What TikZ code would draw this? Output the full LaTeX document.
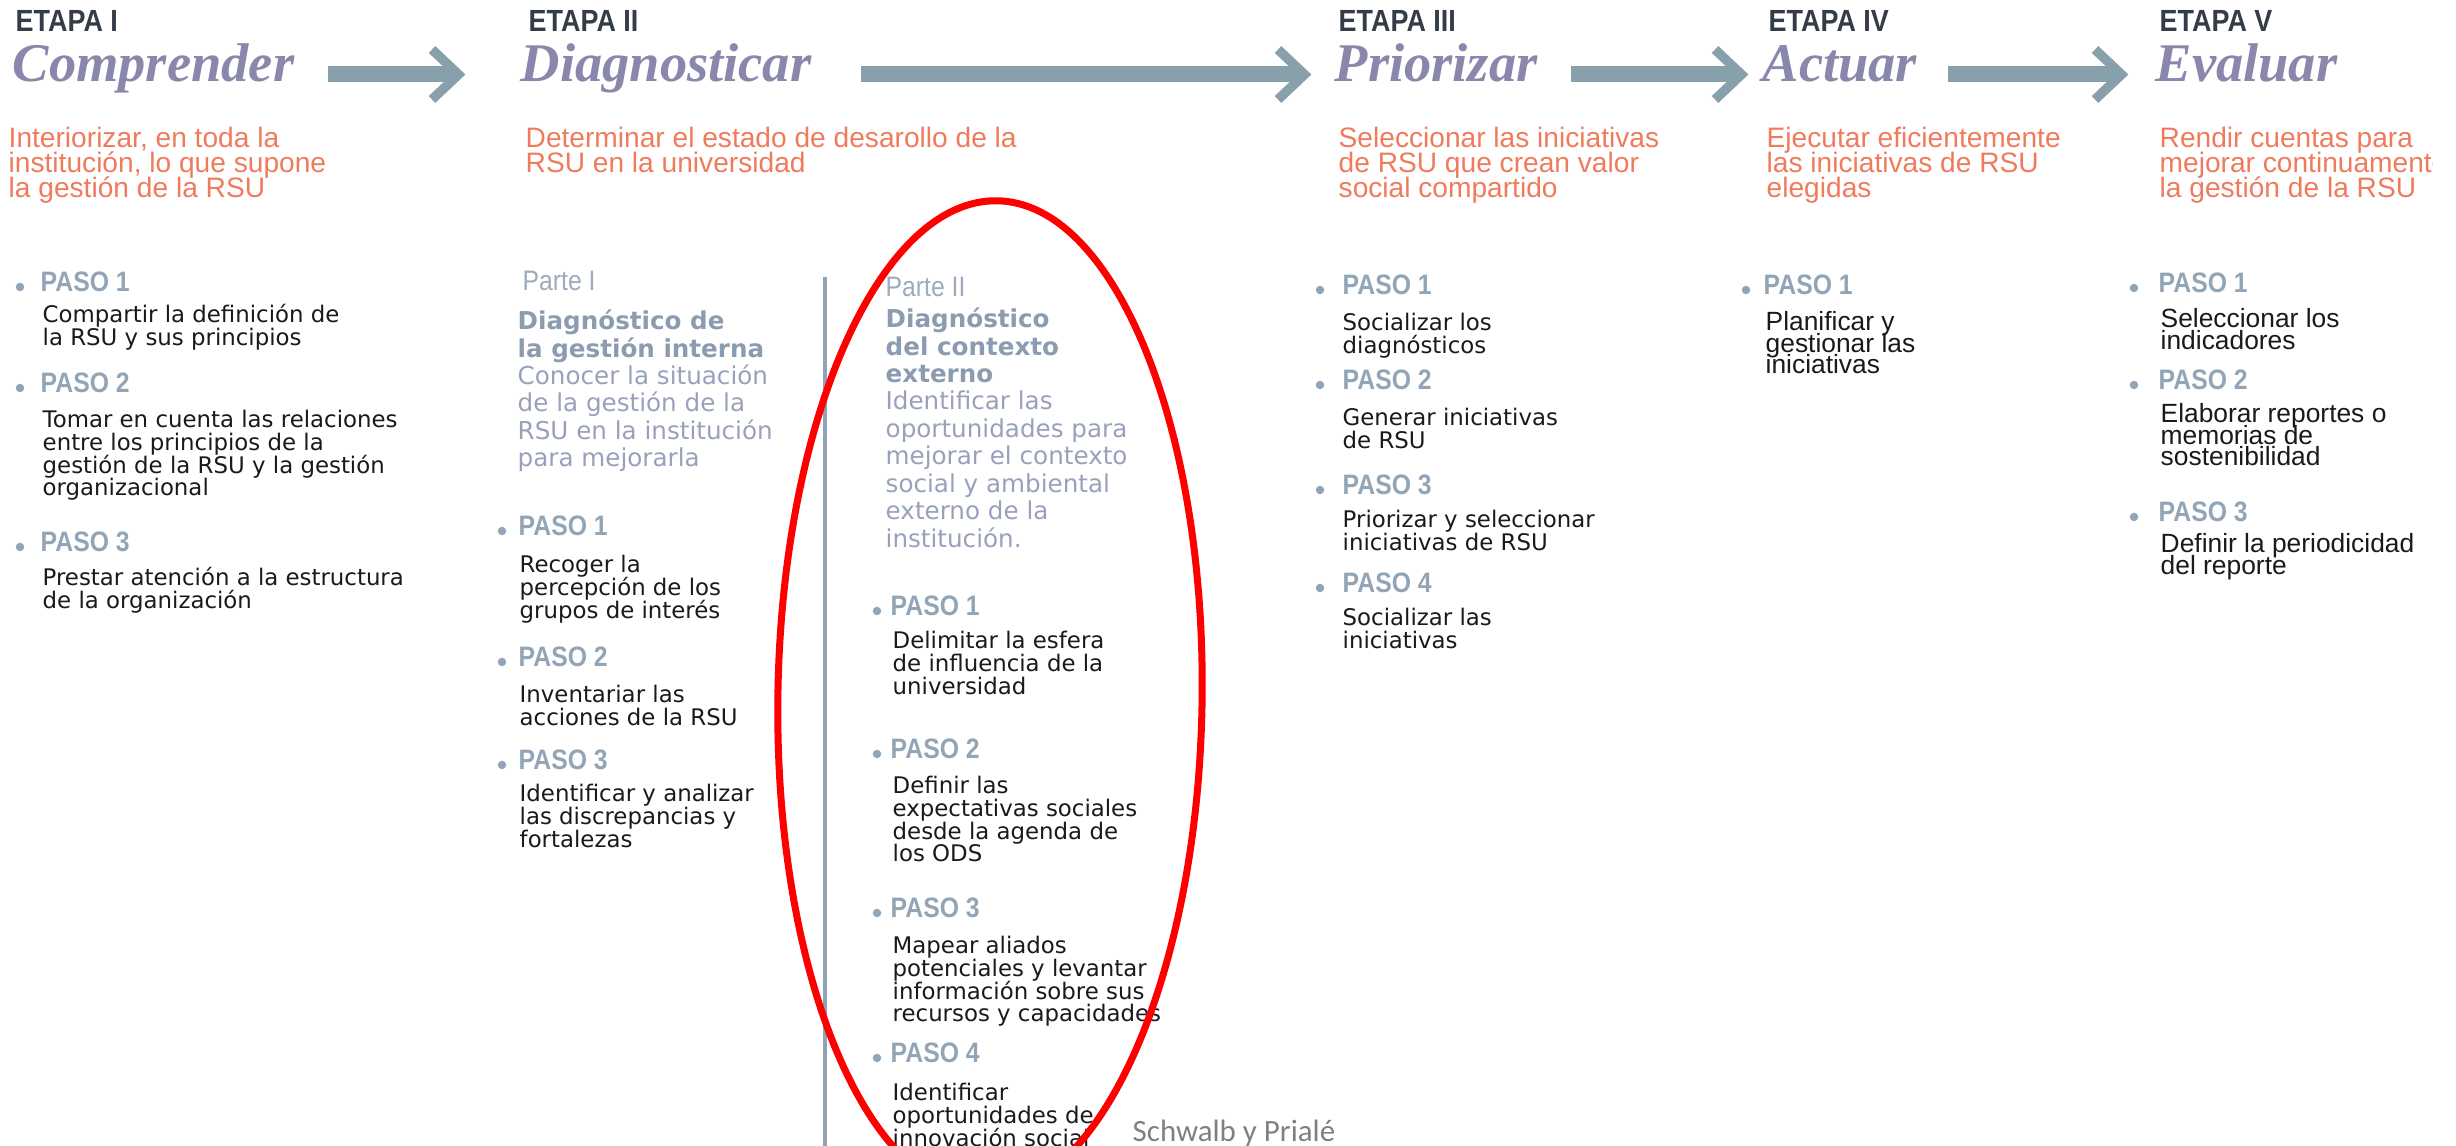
\documentclass[tikz,border=0pt]{standalone}
\usepackage{fontspec}
\usetikzlibrary{shapes.geometric}
\newfontfamily\djv{DejaVu Sans}
\newfontfamily\lib{Liberation Sans}
\newfontfamily\libc[FakeStretch=0.88]{Liberation Sans}
\newfontfamily\libser{Liberation Serif}
\newfontfamily\carl{Carlito}
\newcommand\toprl{\rule{0pt}{10pt}}
\lineskiplimit=-100pt
\lineskip=0pt
\definecolor{etapac}{RGB}{52,60,72}
\definecolor{titc}{RGB}{138,135,172}
\definecolor{arrowc}{RGB}{135,160,171}
\definecolor{orangec}{RGB}{240,122,92}
\definecolor{pasoc}{RGB}{145,165,182}
\definecolor{bodyc}{RGB}{25,25,30}
\definecolor{partec}{RGB}{158,170,190}
\definecolor{parteb}{RGB}{140,156,176}
\definecolor{partet}{RGB}{152,160,188}
\definecolor{linec}{RGB}{143,163,180}
\definecolor{srcc}{RGB}{128,128,128}
\begin{document}
\begin{tikzpicture}[x=0.01cm,y=-0.01cm,
  etapa/.style={anchor=base west,inner sep=0pt,text=etapac,font=\libc\bfseries\fontsize{8.7}{9}\selectfont},
  titulo/.style={anchor=base west,inner sep=0pt,text=titc,font=\libser\bfseries\itshape\fontsize{15.5}{16}\selectfont},
  txt/.style={anchor=north west,inner sep=0pt,align=left,yshift=10pt},
  sub/.style={txt,text=orangec,font=\lib\fontsize{8}{7.1}\selectfont},
  paso/.style={anchor=base west,inner sep=0pt,text=pasoc,font=\libc\bfseries\fontsize{8}{8}\selectfont},
  body/.style={txt,text=bodyc,font=\djv\fontsize{6.5}{6.45}\selectfont},
  bodyn/.style={txt,text=bodyc,font=\lib\fontsize{7.5}{6.1}\selectfont},
  parte/.style={anchor=base west,inner sep=0pt,text=partec,font=\libc\fontsize{8}{8}\selectfont},
  partetxt/.style={txt,text=partet,font=\djv\fontsize{7}{7.8}\selectfont},
  bul/.style={circle,fill=pasoc,inner sep=0pt,minimum size=0.085cm},
  src/.style={anchor=base west,inner sep=0pt,text=srcc,font=\carl\fontsize{8.8}{9}\selectfont},
  shaft/.style={draw=arrowc,line width=0.16cm},
  chev/.style={draw=arrowc,line width=0.095cm,line join=miter},
  vline/.style={draw=linec,line width=0.04cm},
  redring/.style={draw=red,line width=0.07cm}
]
\useasboundingbox (0,0) rectangle (2456,1146);
\clip (0,0) rectangle (2432,1146);

% ---- header ----
\node[etapa] (e1) at (15,32) {ETAPA I};
\node[etapa] (e2) at (528,32) {ETAPA II};
\node[etapa] (e3) at (1338,32) {ETAPA III};
\node[etapa] (e4) at (1768,32) {ETAPA IV};
\node[etapa] (e5) at (2159,32) {ETAPA V};

\node[titulo] (t1) at (12,82) {Comprender};
\node[titulo] (t2) at (520,82) {Diagnosticar};
\node[titulo] (t3) at (1334,82) {Priorizar};
\node[titulo] (t4) at (1762,82) {Actuar};
\node[titulo] (t5) at (2155,82) {Evaluar};

\coordinate (as1) at (328,74.5);  \coordinate (ae1) at (465,74.5);
\coordinate (as2) at (861,74.5);  \coordinate (ae2) at (1311,74.5);
\coordinate (as3) at (1571,74.5); \coordinate (ae3) at (1748,74.5);
\coordinate (as4) at (1948,74.5); \coordinate (ae4) at (2128,74.5);
\foreach \i in {1,...,4}{
  \draw[shaft] (as\i) -- ([xshift=-0.09cm]ae\i);
  \draw[chev] ([shift={(-33,-25)}]ae\i) -- ([xshift=-0.065cm]ae\i) -- ([shift={(-33,25)}]ae\i);
}

\node[sub] (o1) at (8,147) {\toprl Interiorizar, en toda la\\institución, lo que supone\\la gestión de la RSU};
\node[sub] (o2) at (525,147) {\toprl Determinar el estado de desarollo de la\\RSU en la universidad};
\node[sub] (o3) at (1338,147) {\toprl Seleccionar las iniciativas\\de RSU que crean valor\\social compartido};
\node[sub] (o4) at (1766,147) {\toprl Ejecutar eficientemente\\las iniciativas de RSU\\elegidas};
\node[sub] (o5) at (2159,147) {\toprl Rendir cuentas para\\mejorar continuamente\\la gestión de la RSU};

% ---- column 1 ----
\node[bul] (b11) at (20,287) {};
\node[paso] (p11) at (40,292) {PASO 1};
\node[body] (d11) at (42,322) {\toprl Compartir la definición de\\la RSU y sus principios};
\node[bul] (b12) at (20,388) {};
\node[paso] (p12) at (40,393) {PASO 2};
\node[body] (d12) at (42,427) {\toprl Tomar en cuenta las relaciones\\entre los principios de la\\gestión de la RSU y la gestión\\organizacional};
\node[bul] (b13) at (20,547) {};
\node[paso] (p13) at (40,552) {PASO 3};
\node[body] (d13) at (42,585) {\toprl Prestar atención a la estructura\\de la organización};

% ---- column 2, part I ----
\node[parte] (pt1) at (522,291) {Parte I};
\node[partetxt] (pd1) at (517,329) {\toprl\textcolor{parteb}{\bfseries Diagnóstico de}\\\textcolor{parteb}{\bfseries la gestión interna}\\Conocer la situación\\de la gestión de la\\RSU en la institución\\para mejorarla};
\node[bul] (b21) at (502,531) {};
\node[paso] (p21) at (518,536) {PASO 1};
\node[body] (d21) at (519,572) {\toprl Recoger la\\percepción de los\\grupos de interés};
\node[bul] (b22) at (502,662) {};
\node[paso] (p22) at (518,667) {PASO 2};
\node[body] (d22) at (519,702) {\toprl Inventariar las\\acciones de la RSU};
\node[bul] (b23) at (502,765) {};
\node[paso] (p23) at (518,770) {PASO 3};
\node[body] (d23) at (519,801) {\toprl Identificar y analizar\\las discrepancias y\\fortalezas};

\coordinate (vl1) at (825,277);
\coordinate (vl2) at (825,1146);
\draw[vline] (vl1) -- (vl2);

% ---- column 2, part II ----
\node[parte] (pt2) at (885,297) {Parte II};
\node[partetxt] (pd2) at (885,327) {\toprl\textcolor{parteb}{\bfseries Diagnóstico}\\\textcolor{parteb}{\bfseries del contexto}\\\textcolor{parteb}{\bfseries externo}\\Identificar las\\oportunidades para\\mejorar el contexto\\social y ambiental\\externo de la\\institución.};
\node[bul] (b31) at (877,611) {};
\node[paso] (p31) at (890,616) {PASO 1};
\node[body] (d31) at (892,648) {\toprl Delimitar la esfera\\de influencia de la\\universidad};
\node[bul] (b32) at (877,754) {};
\node[paso] (p32) at (890,759) {PASO 2};
\node[body] (d32) at (892,793) {\toprl Definir las\\expectativas sociales\\desde la agenda de\\los ODS};
\node[bul] (b33) at (877,913) {};
\node[paso] (p33) at (890,918) {PASO 3};
\node[body] (d33) at (892,953) {\toprl Mapear aliados\\potenciales y levantar\\información sobre sus\\recursos y capacidades};
\node[bul] (b34) at (877,1058) {};
\node[paso] (p34) at (890,1063) {PASO 4};
\node[body] (d34) at (892,1100) {\toprl Identificar\\oportunidades de\\innovación social};

\node[redring, ellipse, rotate=-0.8, minimum width=4.24cm, minimum height=9.94cm, inner sep=0pt] (ring) at (990,698) {};

\node[src] (src) at (1132,1142) {Schwalb y Prialé};

% ---- column 3 ----
\node[bul] (b41) at (1320,290) {};
\node[paso] (p41) at (1342,295) {PASO 1};
\node[body] (d41) at (1342,330) {\toprl Socializar los\\diagnósticos};
\node[bul] (b42) at (1320,385) {};
\node[paso] (p42) at (1342,390) {PASO 2};
\node[body] (d42) at (1342,425) {\toprl Generar iniciativas\\de RSU};
\node[bul] (b43) at (1320,490) {};
\node[paso] (p43) at (1342,495) {PASO 3};
\node[body] (d43) at (1342,527) {\toprl Priorizar y seleccionar\\iniciativas de RSU};
\node[bul] (b44) at (1320,588) {};
\node[paso] (p44) at (1342,593) {PASO 4};
\node[body] (d44) at (1342,625) {\toprl Socializar las\\iniciativas};

% ---- column 4 ----
\node[bul] (b51) at (1746,290) {};
\node[paso] (p51) at (1763,295) {PASO 1};
\node[bodyn] (d51) at (1765,330) {\toprl Planificar y\\gestionar las\\iniciativas};

% ---- column 5 ----
\node[bul] (b61) at (2134,288) {};
\node[paso] (p61) at (2158,293) {PASO 1};
\node[bodyn] (d61) at (2160,327) {\toprl Seleccionar los\\indicadores};
\node[bul] (b62) at (2134,385) {};
\node[paso] (p62) at (2158,390) {PASO 2};
\node[bodyn] (d62) at (2160,422) {\toprl Elaborar reportes o\\memorias de\\sostenibilidad};
\node[bul] (b63) at (2134,517) {};
\node[paso] (p63) at (2158,522) {PASO 3};
\node[bodyn] (d63) at (2160,552) {\toprl Definir la periodicidad\\del reporte};
\end{tikzpicture}
\end{document}
